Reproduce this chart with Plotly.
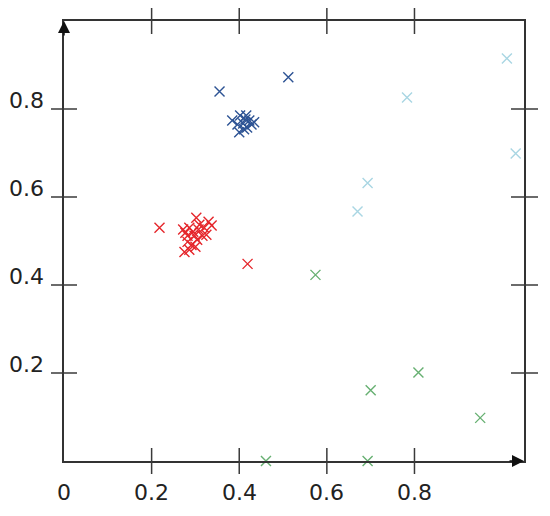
import plotly.graph_objects as go

# ---- data ----
red_x = [0.218, 0.419, 0.275, 0.282, 0.277, 0.286, 0.295, 0.302, 0.309, 0.320,
         0.330, 0.337, 0.316, 0.304, 0.291, 0.300, 0.282, 0.298, 0.307, 0.272,
         0.286, 0.325]
red_y = [0.530, 0.448, 0.475, 0.498, 0.519, 0.530, 0.521, 0.553, 0.537, 0.530,
         0.544, 0.535, 0.512, 0.503, 0.491, 0.487, 0.512, 0.512, 0.526, 0.526,
         0.480, 0.514]
blue_x = [0.355, 0.512, 0.384, 0.400, 0.411, 0.402, 0.416, 0.423, 0.428, 0.409,
          0.418, 0.396, 0.434, 0.414]
blue_y = [0.840, 0.872, 0.774, 0.747, 0.754, 0.785, 0.785, 0.774, 0.765, 0.767,
          0.758, 0.765, 0.770, 0.776]
lblue_x = [1.011, 0.783, 1.031, 0.693, 0.670]
lblue_y = [0.915, 0.826, 0.699, 0.632, 0.567]
green_x = [0.574, 0.700, 0.809, 0.950, 0.693, 0.461]
green_y = [0.423, 0.161, 0.201, 0.098, 0.000, 0.000]

x_ticks = [0.2, 0.4, 0.6, 0.8]
x_tick_labels = ["0", "0.2", "0.4", "0.6", "0.8"]
x_label_pos = [0.0, 0.2, 0.4, 0.6, 0.8]
y_ticks = [0.2, 0.4, 0.6, 0.8]
y_tick_labels = ["0.2", "0.4", "0.6", "0.8"]

X_RANGE = [0, 1.05]
Y_RANGE = [0, 1.0]

fig = go.Figure()

def add(xs, ys, color):
    fig.add_trace(go.Scatter(
        x=xs, y=ys, mode="markers",
        marker=dict(symbol="x-thin", size=10, line=dict(width=1.4, color=color), color=color),
        showlegend=False, cliponaxis=False, hoverinfo="skip"))

add(red_x, red_y, "#e5262b")
add(blue_x, blue_y, "#2d5394")
add(lblue_x, lblue_y, "#a9d6e3")
add(green_x, green_y, "#67b072")

def xd(v):
    return (v - X_RANGE[0]) / (X_RANGE[1] - X_RANGE[0])

def yd(v):
    return (v - Y_RANGE[0]) / (Y_RANGE[1] - Y_RANGE[0])

axis_color = "#333333"
tick_line = dict(color="#3a3a3a", width=1.5)
shapes = []
for v in y_ticks:
    shapes.append(dict(type="line", xref="x domain", yref="y domain", xsizemode="pixel", xanchor=0,
                       x0=-13, x1=13, y0=yd(v), y1=yd(v), line=tick_line))
    shapes.append(dict(type="line", xref="x domain", yref="y domain", xsizemode="pixel", xanchor=1,
                       x0=-13, x1=14, y0=yd(v), y1=yd(v), line=tick_line))
for v in x_ticks:
    shapes.append(dict(type="line", xref="x domain", yref="y domain", ysizemode="pixel", yanchor=0,
                       y0=-13, y1=13, x0=xd(v), x1=xd(v), line=tick_line))
    shapes.append(dict(type="line", xref="x domain", yref="y domain", ysizemode="pixel", yanchor=1,
                       y0=-13, y1=13, x0=xd(v), x1=xd(v), line=tick_line))

annotations = []
for v, t in zip(y_ticks, y_tick_labels):
    annotations.append(dict(x=0, y=v, xref="x", yref="y", text=t, showarrow=False,
                            xanchor="right", yanchor="middle", xshift=-18, yshift=9,
                            font=dict(family="DejaVu Sans", size=22, color="#222222")))
for v, t in zip(x_label_pos, x_tick_labels):
    annotations.append(dict(x=v, y=0, xref="x", yref="y", text=t, showarrow=False,
                            xanchor="center", yanchor="middle", yshift=-31,
                            font=dict(family="DejaVu Sans", size=22, color="#222222")))
# arrowheads
annotations.append(dict(x=0, y=Y_RANGE[1], xref="x", yref="y", ax=0, ay=16,
                        text="", showarrow=True, arrowhead=2, arrowsize=1.6, arrowwidth=1.5,
                        arrowcolor="#111111"))
annotations.append(dict(x=X_RANGE[1], y=0, xref="x", yref="y", ax=-16, ay=0,
                        text="", showarrow=True, arrowhead=2, arrowsize=1.6, arrowwidth=1.5,
                        arrowcolor="#111111"))

fig.update_layout(
    width=550, height=516,
    margin=dict(l=56, r=34, t=13, b=63, autoexpand=False),
    paper_bgcolor="white", plot_bgcolor="white",
    shapes=shapes, annotations=annotations,
    xaxis=dict(range=X_RANGE, showgrid=False, zeroline=False, showticklabels=False,
               ticks="", showline=True, linecolor=axis_color, linewidth=1.5, mirror=True),
    yaxis=dict(range=Y_RANGE, showgrid=False, zeroline=False, showticklabels=False,
               ticks="", showline=True, linecolor=axis_color, linewidth=1.5, mirror=True),
)

fig.write_html("out.html")
